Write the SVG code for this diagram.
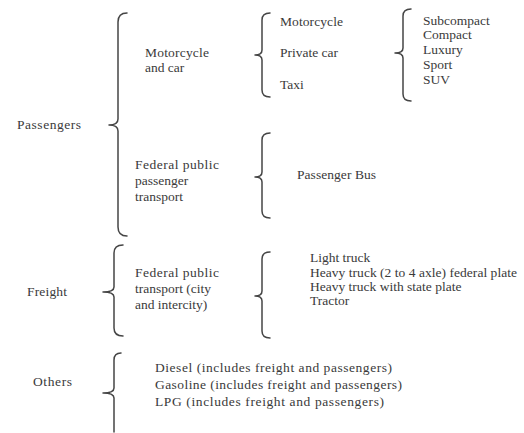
<svg xmlns="http://www.w3.org/2000/svg" width="524" height="433" viewBox="0 0 524 433">
<style>
text{font-family:"Liberation Serif",serif;font-size:13.5px;fill:#3a3a3a}
.b{fill:none;stroke:#454545;stroke-width:1.5;stroke-linecap:round;stroke-linejoin:round}
</style>
<rect width="524" height="433" fill="#fff"/>
<g id="connectors">
<path class="b" d="M127,13 Q118,13 118,22 L118,119 Q118,125 109,125 Q118,125 118,131 L118,227 Q118,236 127,236"/>
<path class="b" d="M270,13 Q262,13 262,20 L262,50 Q262,55 255,55 Q262,55 262,60 L262,90 Q262,97 270,97"/>
<path class="b" d="M270,133 Q262,133 262,140 L262,172 Q262,177 255,177 Q262,177 262,182 L262,211 Q262,218 270,218"/>
<path class="b" d="M411,9 Q403,9 403,16 L403,48 Q403,53 395,53 Q403,53 403,58 L403,94 Q403,101 411,101"/>
<path class="b" d="M123,245 Q114,245 114,253 L114,287 Q114,292 103,292 Q114,292 114,297 L114,328 Q114,336 123,336"/>
<path class="b" d="M270,252 Q262,252 262,259 L262,291 Q262,296 255,296 Q262,296 262,301 L262,331 Q262,338 270,338"/>
<path class="b" d="M121,353 Q114,353 114,360 L114,388 Q114,393 103,393 Q114,393 114,398 L114,432"/>
</g>
<g id="passengers"><text x="17" y="129" font-family="Liberation Serif" textLength="64" lengthAdjust="spacing">Passengers</text></g>
<g id="motorcycle-and-car"><text x="145" y="57" font-family="Liberation Serif" textLength="64" lengthAdjust="spacing">Motorcycle</text><text x="145" y="72" font-family="Liberation Serif">and car</text></g>
<g id="federal-passenger"><text x="135" y="169" font-family="Liberation Serif" textLength="84" lengthAdjust="spacing">Federal public</text><text x="135" y="185" font-family="Liberation Serif">passenger</text><text x="135" y="201" font-family="Liberation Serif">transport</text></g>
<g id="vehicle-types"><text x="280" y="26" font-family="Liberation Serif" textLength="63" lengthAdjust="spacing">Motorcycle</text><text x="280" y="57" font-family="Liberation Serif">Private car</text><text x="280" y="89" font-family="Liberation Serif">Taxi</text></g>
<g id="car-classes"><text x="423" y="25" font-family="Liberation Serif">Subcompact</text><text x="423" y="39" font-family="Liberation Serif">Compact</text><text x="423" y="54" font-family="Liberation Serif">Luxury</text><text x="423" y="69" font-family="Liberation Serif">Sport</text><text x="423" y="84" font-family="Liberation Serif">SUV</text></g>
<g id="passenger-bus"><text x="297" y="179" font-family="Liberation Serif" textLength="79" lengthAdjust="spacing">Passenger Bus</text></g>
<g id="freight"><text x="27" y="296" font-family="Liberation Serif" textLength="40" lengthAdjust="spacing">Freight</text></g>
<g id="federal-freight"><text x="135" y="277" font-family="Liberation Serif" textLength="84" lengthAdjust="spacing">Federal public</text><text x="135" y="293" font-family="Liberation Serif">transport (city</text><text x="135" y="309" font-family="Liberation Serif">and intercity)</text></g>
<g id="trucks"><text x="310" y="262" font-family="Liberation Serif">Light truck</text><text x="310" y="277" font-family="Liberation Serif" textLength="207" lengthAdjust="spacing">Heavy truck (2 to 4 axle) federal plate</text><text x="310" y="291" font-family="Liberation Serif">Heavy truck with state plate</text><text x="310" y="305" font-family="Liberation Serif">Tractor</text></g>
<g id="others"><text x="33" y="386" font-family="Liberation Serif" textLength="39" lengthAdjust="spacing">Others</text></g>
<g id="fuels"><text x="155" y="372" font-family="Liberation Serif" textLength="237" lengthAdjust="spacing">Diesel (includes freight and passengers)</text><text x="155" y="389" font-family="Liberation Serif" textLength="247" lengthAdjust="spacing">Gasoline (includes freight and passengers)</text><text x="155" y="406" font-family="Liberation Serif" textLength="229" lengthAdjust="spacing">LPG (includes freight and passengers)</text></g>
</svg>
